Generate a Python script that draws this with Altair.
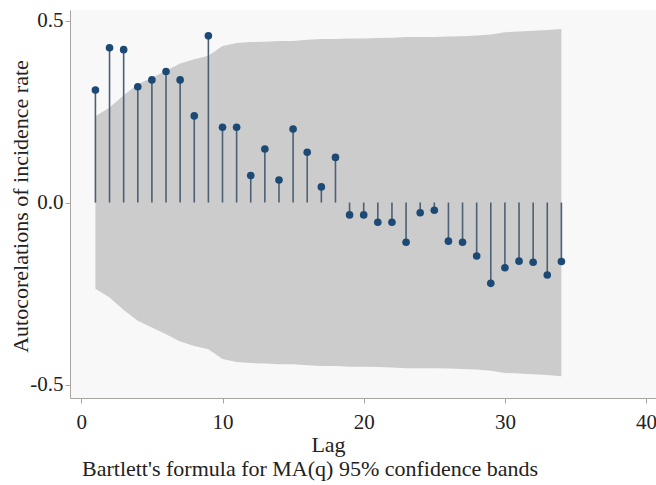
import altair as alt
import pandas as pd

lags = list(range(1, 35))
acf = [0.309, 0.425, 0.420, 0.318, 0.337, 0.360, 0.337, 0.238, 0.458, 0.207,
       0.207, 0.074, 0.147, 0.062, 0.202, 0.138, 0.043, 0.124, -0.034, -0.034,
       -0.054, -0.054, -0.109, -0.028, -0.021, -0.106, -0.109, -0.147, -0.222, -0.179,
       -0.161, -0.164, -0.199, -0.162]
band = [0.237, 0.261, 0.295, 0.325, 0.343, 0.362, 0.382, 0.394, 0.403, 0.430,
        0.438, 0.441, 0.442, 0.444, 0.444, 0.447, 0.449, 0.449, 0.451, 0.451,
        0.452, 0.453, 0.455, 0.455, 0.455, 0.456, 0.457, 0.459, 0.462, 0.468,
        0.470, 0.472, 0.474, 0.477]
x_ticks = [0, 10, 20, 30, 40]
y_ticks = [-0.5, 0.0, 0.5]
note = "Bartlett's formula for MA(q) 95% confidence bands"

df = pd.DataFrame({
    "lag": lags,
    "acf": acf,
    "upper": band,
    "lower": [-b for b in band],
})

FONT = "Liberation Serif"
AXCOL = "#a8a4a0"
TXT = "#222222"

xscale = alt.Scale(domain=[-0.8, 40.7], nice=False, zero=False)
yscale = alt.Scale(domain=[-0.537, 0.529], nice=False, zero=False)

xaxis = alt.Axis(values=x_ticks, title="Lag", grid=False, domainColor=AXCOL,
                 tickColor=AXCOL, tickSize=5, labelPadding=8, labelFont=FONT,
                 labelFontSize=21, labelColor=TXT, titleFont=FONT,
                 titleFontSize=22, titleFontWeight="normal", titleColor=TXT,
                 titleX=258, titleY=46, titleBaseline="middle", titleAlign="center")
yaxis = alt.Axis(values=y_ticks, title="Autocorelations of incidence rate", grid=False,
                 domainColor=AXCOL, tickColor=AXCOL, tickSize=5, labelPadding=2,
                 labelFont=FONT, labelFontSize=21, labelColor=TXT,
                 labelExpr="datum.value < 0 ? '-' + format(-datum.value, '.1f') : format(datum.value, '.1f')",
                 titleFont=FONT, titleFontSize=22, titleFontWeight="normal",
                 titleColor=TXT, titleX=-50, titleY=196, titleAngle=270,
                 titleBaseline="middle", titleAlign="center")

base = alt.Chart(df)

area = base.mark_area(color="#cccccc", opacity=1).encode(
    x=alt.X("lag:Q", scale=xscale, axis=xaxis),
    y=alt.Y("lower:Q", scale=yscale, axis=yaxis),
    y2="upper:Q",
)

stems = base.mark_rule(color="#4b6075", strokeWidth=1.6).transform_calculate(
    zero="0"
).encode(
    x=alt.X("lag:Q", scale=xscale),
    y=alt.Y("zero:Q", scale=yscale),
    y2="acf:Q",
)

dots = base.mark_circle(color="#1c4a75", size=58, opacity=1).encode(
    x=alt.X("lag:Q", scale=xscale),
    y=alt.Y("acf:Q", scale=yscale),
)

note_layer = alt.Chart(pd.DataFrame({"t": [note]})).mark_text(
    align="left", baseline="middle", font=FONT, fontSize=22, color=TXT
).encode(x=alt.value(12), y=alt.value(459), text="t:N")

chart = alt.layer(area, stems, dots, note_layer).properties(
    width=586, height=388,
    autosize=alt.AutoSizeParams(type="none"),
    padding={"left": 70, "top": 10, "right": 0, "bottom": 87},
    background="white",
).configure_view(fill="#f8f8f8", stroke=None).configure_axis(
    labelFont=FONT, titleFont=FONT
).configure_text(font=FONT)

chart.save("out.html", embed_options={"renderer": "svg", "actions": False})
